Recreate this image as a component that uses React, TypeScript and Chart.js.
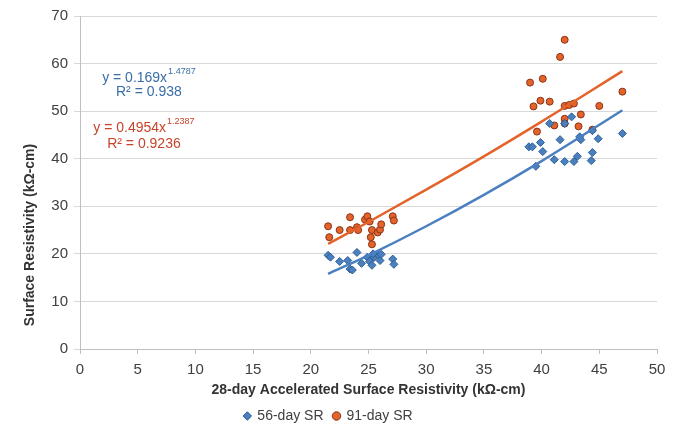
import React, { useEffect, useRef } from "react";
import { Chart, registerables } from "chart.js";

Chart.register(...registerables);

// 56-day surface resistivity vs 28-day accelerated SR (kΩ-cm)
const x56 = [21.5, 21.7, 22.5, 23.2, 23.4, 23.6, 24.0, 24.4, 24.9, 25.1, 25.3, 25.5, 25.8, 26.0, 26.1, 25.4, 27.1, 27.2,
  38.9, 39.2, 39.5, 39.9, 40.1, 40.7, 41.1, 41.6, 42.0, 42.0, 42.6, 42.8, 43.1, 43.3, 43.4, 44.3, 44.4, 44.4, 44.9, 47.0];
const y56 = [19.7, 19.3, 18.4, 18.6, 16.8, 16.6, 20.3, 18.0, 19.3, 18.4, 17.6, 19.3, 19.9, 18.6, 19.9, 20.0, 18.9, 17.8,
  42.5, 42.5, 38.4, 43.4, 41.5, 47.4, 39.8, 44.0, 39.4, 47.4, 48.8, 39.4, 40.5, 44.6, 44.0, 39.6, 41.3, 45.9, 44.2, 45.3];

// 91-day surface resistivity
const x91 = [21.5, 21.6, 22.5, 23.4, 23.4, 24.0, 24.1, 24.7, 24.9, 25.1, 25.3, 25.2, 25.3, 25.8, 26.0, 26.1, 27.1, 27.2,
  39.0, 40.1, 41.6, 42.0, 39.9, 40.7, 39.3, 42.0, 42.4, 42.8, 45.0, 47.0, 42.0, 43.4, 41.1, 42.0, 39.6, 43.2, 44.4];
const y91 = [25.8, 23.5, 25.0, 27.7, 25.0, 25.6, 25.0, 27.2, 27.9, 26.8, 25.0, 23.5, 22.0, 24.5, 25.1, 26.2, 27.9, 27.0,
  56.0, 56.8, 61.4, 65.0, 52.2, 52.0, 51.0, 51.1, 51.3, 51.6, 51.1, 54.1, 48.4, 49.3, 47.0, 47.4, 45.7, 46.8, 46.1];

// Power trendlines
const trendX = [21.5, 25, 30, 35, 40, 47];
const trend56 = [15.8, 19.7, 25.8, 32.4, 39.5, 50.2];
const trend91 = [22.1, 26.7, 33.5, 40.5, 47.8, 58.4];

const seriesLabels = ["56-day SR", "91-day SR"];
const xTicks = [0, 5, 10, 15, 20, 25, 30, 35, 40, 45, 50];
const yTicks = [0, 10, 20, 30, 40, 50, 60, 70];
const yTitle = "Surface Resistivity (kΩ-cm)";
const xTitle = "28-day Accelerated Surface Resistivity (kΩ-cm)";

const eq56 = { x: 5.97, y: 57.0, base: "y = 0.169x", exp: "1.4787", r2: "R² = 0.938", r2y: 53.9 };
const eq91 = { x: 5.54, y: 46.5, base: "y = 0.4954x", exp: "1.2387", r2: "R² = 0.9236", r2y: 43.0 };

const BLUE = "#4a7fc0";
const ORANGE = "#e4632a";
const FONT = "'Liberation Sans', Arial, sans-serif";

const toPts = (xs: number[], ys: number[]) => xs.map((x, i) => ({ x, y: ys[i] }));

const textPlugin = {
  id: "eqText",
  afterDatasetsDraw(chart: any) {
    const { ctx, scales, chartArea } = chart;
    const draw = (eq: any, color: string) => {
      const cx = scales.x.getPixelForValue(eq.x);
      const y1 = scales.y.getPixelForValue(eq.y);
      const y2 = scales.y.getPixelForValue(eq.r2y);
      ctx.save();
      ctx.fillStyle = color;
      ctx.textBaseline = "middle";
      ctx.font = `14px ${FONT}`;
      const wb = ctx.measureText(eq.base).width;
      ctx.font = `9px ${FONT}`;
      const we = ctx.measureText(eq.exp).width;
      const start = cx - (wb + we + 1) / 2;
      ctx.font = `14px ${FONT}`;
      ctx.textAlign = "left";
      ctx.fillText(eq.base, start, y1);
      ctx.font = `9px ${FONT}`;
      ctx.fillText(eq.exp, start + wb + 1, y1 - 6);
      ctx.font = `14px ${FONT}`;
      ctx.textAlign = "center";
      ctx.fillText(eq.r2, cx, y2);
      ctx.restore();
    };
    draw(eq56, "#3a6ea8");
    draw(eq91, "#c9432a");
    // y-axis title (placed lower than the plot centre, as in the original)
    ctx.save();
    ctx.translate(30, chartArea.bottom - 114);
    ctx.rotate(-Math.PI / 2);
    ctx.fillStyle = "#333333";
    ctx.font = `bold 14px ${FONT}`;
    ctx.textAlign = "center";
    ctx.textBaseline = "middle";
    ctx.fillText(yTitle, 0, 0);
    ctx.restore();
  },
};

export default function App() {
  const ref = useRef<HTMLCanvasElement | null>(null);
  useEffect(() => {
    if (!ref.current) return;
    const chart = new Chart(ref.current, {
      type: "scatter",
      data: {
        datasets: [
          {
            label: seriesLabels[0],
            data: toPts(x56, y56),
            pointStyle: "rectRot",
            pointRadius: 4,
            backgroundColor: BLUE,
            borderColor: "#2d5f96",
            borderWidth: 1,
            order: 2,
          },
          {
            label: seriesLabels[1],
            data: toPts(x91, y91),
            pointStyle: "circle",
            pointRadius: 3.5,
            backgroundColor: ORANGE,
            borderColor: "#8a3416",
            borderWidth: 1,
            order: 2,
          },
          {
            label: "trend56",
            data: toPts(trendX, trend56),
            showLine: true,
            pointRadius: 0,
            borderColor: BLUE,
            borderWidth: 2.5,
            cubicInterpolationMode: "monotone",
            order: 1,
          } as any,
          {
            label: "trend91",
            data: toPts(trendX, trend91),
            showLine: true,
            pointRadius: 0,
            borderColor: ORANGE,
            borderWidth: 2.5,
            cubicInterpolationMode: "monotone",
            order: 1,
          } as any,
        ],
      },
      options: {
        responsive: false,
        animation: false,
        layout: { padding: { top: 16, right: 21, left: 0, bottom: -10 } },
        plugins: {
          tooltip: { enabled: false },
          legend: {
            position: "bottom",
            labels: {
              filter: (item: any) => seriesLabels.includes(item.text),
              usePointStyle: true,
              boxWidth: 6,
              boxHeight: 6,
              padding: 10,
              color: "#404040",
              font: { family: FONT, size: 14 },
            },
          },
        },
        scales: {
          x: {
            type: "linear",
            min: 0,
            max: 50,
            afterBuildTicks: (s: any) => { s.ticks = xTicks.map((v) => ({ value: v })); },
            afterFit: (s: any) => { s.height = 50; },
            grid: { drawOnChartArea: false, tickLength: 5, color: "#bfbfbf" },
            border: { color: "#bfbfbf" },
            ticks: {
              color: "#404040",
              padding: 7,
              maxRotation: 0,
              font: { family: FONT, size: 15 },
            },
            title: {
              display: true,
              text: xTitle,
              color: "#333333",
              padding: { top: 0, bottom: 0 },
              font: { family: FONT, size: 14, weight: "bold" },
            },
          },
          y: {
            type: "linear",
            min: 0,
            max: 70,
            afterBuildTicks: (s: any) => { s.ticks = yTicks.map((v) => ({ value: v })); },
            afterFit: (s: any) => { s.width = 80; },
            grid: { color: "#d9d9d9", tickLength: 6 },
            border: { color: "#bfbfbf" },
            ticks: {
              color: "#404040",
              padding: 6,
              font: { family: FONT, size: 15 },
            },
            title: { display: false },
          },
        },
      },
      plugins: [textPlugin],
    });
    return () => chart.destroy();
  }, []);
  return (
    <div style={{ position: "fixed", left: 0, top: 0, width: 678, height: 423, background: "#fff" }}>
      <canvas ref={ref} width={678} height={423} />
    </div>
  );
}
